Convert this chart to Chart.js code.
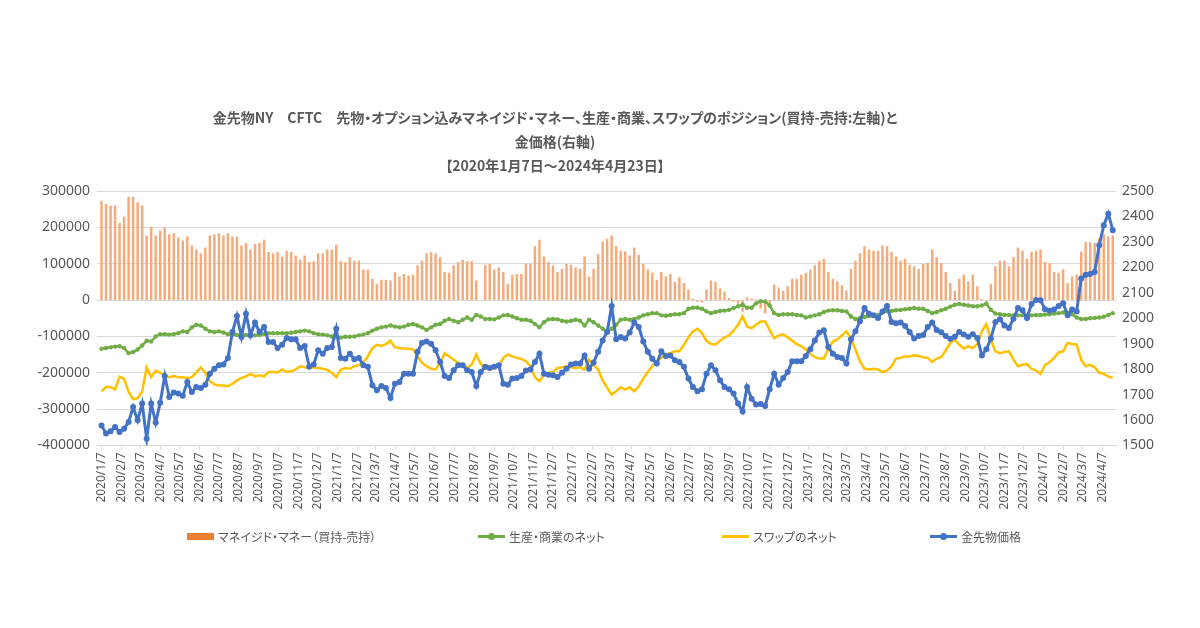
<!DOCTYPE html>
<html lang="ja">
<head>
<meta charset="utf-8">
<script src="https://cdn.jsdelivr.net/npm/chart.js@4.4.1/dist/chart.umd.min.js"></script>
<style>
  body { margin: 0; background: #fff; }
  #wrap { position: relative; width: 1200px; height: 628px; }
  #c { position: absolute; left: 0; top: 0; }
  #title {
    position: absolute; left: 0; top: 105px; width: 1110px;
    text-align: center; color: #595959;
    font: bold 14px "Noto Sans CJK JP", sans-serif; line-height: 24px;
    font-feature-settings: "palt";
  }
  .lg {
    position: absolute; top: 527px; height: 18px;
    display: flex; align-items: center; white-space: nowrap;
    font: 12px "Noto Sans CJK JP", sans-serif; color: #595959;
    font-feature-settings: "palt";
  }
  .sym { position: relative; width: 27px; height: 10px; margin-right: 4px; }
  .sym .bar { position: absolute; left: 0; top: 2px; width: 27px; height: 7px; }
  .sym .ln { position: absolute; left: 0; top: 4px; width: 27px; height: 3px; }
  .sym .dot { position: absolute; left: 10px; top: 2px; width: 7px; height: 7px; border-radius: 50%; }
</style>
</head>
<body>
<div id="wrap">
  <canvas id="c" width="1200" height="628"></canvas>
  <div id="title">
    金先物NY　CFTC　先物・オプション込みマネイジド・マネー、生産・商業、スワップのポジション(買持-売持:左軸)と<br>
    金価格(右軸)<br>
    【2020年1月7日～2024年4月23日】
  </div>
  <div id="legend"></div>
</div>
<script>
// monthly tick labels on the date axis
var tickLabels = [
  '2020/1/7','2020/2/7','2020/3/7','2020/4/7','2020/5/7','2020/6/7','2020/7/7','2020/8/7','2020/9/7','2020/10/7','2020/11/7','2020/12/7',
  '2021/1/7','2021/2/7','2021/3/7','2021/4/7','2021/5/7','2021/6/7','2021/7/7','2021/8/7','2021/9/7','2021/10/7','2021/11/7','2021/12/7',
  '2022/1/7','2022/2/7','2022/3/7','2022/4/7','2022/5/7','2022/6/7','2022/7/7','2022/8/7','2022/9/7','2022/10/7','2022/11/7','2022/12/7',
  '2023/1/7','2023/2/7','2023/3/7','2023/4/7','2023/5/7','2023/6/7','2023/7/7','2023/8/7','2023/9/7','2023/10/7','2023/11/7','2023/12/7',
  '2024/1/7','2024/2/7','2024/3/7','2024/4/7'
];

// weekly CFTC report, 2020/1/7 .. 2024/4/23 (every Tuesday)
var firstWeek = '2020/1/7';

var managedMoney = [
  272000,263000,259000,259000,211000,229000,283000,283000,268000,259000,177000,201000,177000,190000,199000,180000,183000,171000,162000,174000,
  149000,138000,128000,144000,177000,180000,183000,177000,183000,174000,174000,149000,156000,138000,153000,156000,165000,131000,128000,131000,
  119000,135000,131000,122000,110000,122000,104000,106000,128000,128000,138000,138000,151000,106000,103000,117000,107000,107000,83000,83000,
  58000,43000,55000,55000,53000,76000,64000,71000,67000,69000,95000,107000,128000,131000,128000,117000,76000,74000,95000,104000,
  110000,106000,106000,53000,null,96000,98000,83000,89000,76000,43000,69000,71000,71000,100000,98000,147000,165000,119000,104000,
  95000,76000,85000,98000,96000,89000,85000,119000,64000,85000,126000,160000,168000,177000,147000,135000,133000,122000,144000,124000,
  98000,83000,74000,55000,76000,64000,71000,49000,62000,46000,28000,3000,-4000,-6000,28000,53000,49000,31000,22000,5000,
  -4000,-9000,-31000,7000,3000,1000,-22000,-36000,-13000,42000,34000,25000,37000,58000,58000,69000,74000,83000,95000,107000,
  113000,76000,58000,51000,40000,25000,85000,107000,128000,147000,138000,135000,135000,149000,147000,131000,119000,107000,113000,96000,
  92000,85000,98000,101000,138000,117000,101000,76000,46000,25000,58000,69000,51000,69000,37000,2000,-3000,43000,92000,107000,
  107000,92000,117000,144000,135000,113000,131000,135000,138000,104000,101000,76000,74000,83000,46000,64000,69000,133000,159000,159000,
  156000,169000,180000,174000,177000
];

var producerNet = [
  -134000,-132000,-130000,-128000,-127000,-132000,-146000,-143000,-136000,-125000,-112000,-114000,-100000,-94000,-94000,-95000,-94000,-91000,-86000,-88000,
  -75000,-68000,-70000,-79000,-86000,-88000,-86000,-89000,-94000,-95000,-96000,-97000,-96000,-97000,-97000,-96000,-93000,-91000,-91000,-91000,
  -91000,-91000,-90000,-88000,-86000,-84000,-86000,-91000,-94000,-95000,-97000,-100000,-100000,-103000,-101000,-101000,-100000,-97000,-95000,-91000,
  -84000,-79000,-75000,-73000,-70000,-73000,-75000,-73000,-68000,-66000,-70000,-75000,-82000,-75000,-68000,-66000,-57000,-52000,-57000,-61000,
  -54000,-48000,-54000,-41000,-45000,-52000,-52000,-53000,-48000,-42000,-41000,-45000,-50000,-54000,-54000,-57000,-66000,-75000,-61000,-53000,
  -52000,-53000,-57000,-59000,-57000,-54000,-57000,-70000,-54000,-61000,-70000,-79000,-86000,-79000,-68000,-54000,-52000,-54000,-52000,-48000,
  -42000,-39000,-36000,-36000,-42000,-43000,-41000,-39000,-39000,-36000,-24000,-21000,-21000,-24000,-31000,-36000,-33000,-30000,-29000,-27000,
  -22000,-17000,-13000,-21000,-21000,-9000,-3000,-4000,-15000,-36000,-41000,-39000,-39000,-39000,-41000,-42000,-48000,-45000,-42000,-39000,
  -33000,-29000,-28000,-28000,-30000,-31000,-45000,-52000,-50000,-47000,-44000,-44000,-41000,-33000,-30000,-30000,-28000,-27000,-25000,-24000,
  -22000,-24000,-24000,-30000,-36000,-33000,-28000,-24000,-18000,-13000,-11000,-13000,-15000,-17000,-17000,-15000,-10000,-27000,-37000,-39000,
  -41000,-41000,-42000,-42000,-42000,-44000,-42000,-41000,-41000,-40000,-39000,-37000,-36000,-34000,-35000,-39000,-48000,-52000,-52000,-50000,
  -49000,-48000,-46000,-41000,-36000
];

var swapNet = [
  -251000,-239000,-239000,-246000,-211000,-217000,-252000,-273000,-269000,-252000,-185000,-212000,-194000,-200000,-208000,-212000,-209000,-212000,-212000,-214000,
  -212000,-199000,-185000,-200000,-223000,-232000,-235000,-235000,-237000,-230000,-221000,-214000,-210000,-203000,-210000,-207000,-210000,-198000,-198000,-199000,
  -191000,-198000,-196000,-191000,-182000,-185000,-187000,-185000,-187000,-189000,-192000,-200000,-212000,-192000,-187000,-189000,-182000,-179000,-170000,-155000,
  -132000,-123000,-126000,-121000,-112000,-130000,-132000,-134000,-134000,-135000,-155000,-173000,-182000,-189000,-191000,-173000,-146000,-155000,-164000,-173000,
  -179000,-187000,-178000,-150000,-176000,-187000,-191000,-187000,-182000,-159000,-150000,-155000,-159000,-162000,-168000,-182000,-212000,-223000,-207000,-200000,
  -198000,-187000,-185000,-182000,-185000,-187000,-185000,-191000,-164000,-178000,-191000,-221000,-241000,-260000,-251000,-240000,-246000,-240000,-251000,-237000,
  -216000,-198000,-182000,-168000,-159000,-148000,-146000,-141000,-141000,-123000,-103000,-86000,-79000,-91000,-112000,-121000,-122000,-112000,-103000,-97000,
  -84000,-68000,-45000,-73000,-77000,-68000,-59000,-59000,-82000,-105000,-97000,-94000,-103000,-112000,-121000,-127000,-136000,-148000,-157000,-161000,
  -161000,-134000,-114000,-108000,-97000,-86000,-105000,-136000,-168000,-189000,-191000,-189000,-191000,-198000,-194000,-182000,-161000,-159000,-155000,-155000,
  -152000,-154000,-157000,-159000,-170000,-161000,-157000,-138000,-118000,-109000,-123000,-134000,-127000,-132000,-121000,-86000,-66000,-109000,-141000,-146000,
  -143000,-141000,-164000,-182000,-178000,-176000,-189000,-194000,-203000,-178000,-171000,-159000,-144000,-141000,-118000,-121000,-122000,-164000,-182000,-178000,
  -185000,-200000,-203000,-210000,-214000
];

var goldPrice = [
  1579,1547,1556,1573,1553,1566,1592,1651,1599,1665,1527,1665,1590,1668,1773,1691,1708,1704,1695,1750,
  1710,1730,1726,1739,1782,1802,1815,1818,1844,1946,2009,1926,2018,1933,1983,1946,1966,1907,1907,1883,
  1896,1922,1917,1917,1883,1891,1809,1818,1874,1861,1883,1887,1959,1844,1841,1861,1839,1844,1815,1809,
  1737,1717,1734,1726,1687,1743,1750,1782,1782,1782,1868,1904,1909,1900,1874,1828,1773,1765,1796,1815,
  1815,1796,1789,1734,1789,1809,1805,1809,1815,1743,1739,1763,1765,1773,1795,1799,1828,1861,1782,1778,
  1776,1769,1786,1802,1818,1822,1822,1854,1802,1826,1868,1913,1946,2048,1917,1926,1920,1944,1983,1966,
  1909,1868,1841,1822,1870,1852,1854,1835,1828,1809,1763,1730,1713,1721,1782,1815,1796,1756,1730,1721,
  1704,1665,1634,1730,1684,1661,1663,1655,1721,1782,1739,1765,1789,1831,1831,1831,1852,1878,1913,1944,
  1953,1887,1861,1848,1844,1822,1917,1949,1988,2040,2018,2012,2001,2027,2048,1985,1980,1983,1970,1946,
  1920,1930,1934,1966,1983,1954,1945,1930,1919,1927,1946,1936,1927,1937,1922,1854,1878,1920,1985,1996,
  1972,1962,1998,2040,2031,2001,2056,2072,2071,2035,2029,2034,2048,2059,2012,2034,2027,2156,2171,2174,
  2182,2287,2365,2411,2346
];

// days since the first report, used as x on the date axis
function dayOf(s) {
  var p = s.split('/').map(Number);
  var f = firstWeek.split('/').map(Number);
  return (Date.UTC(p[0], p[1] - 1, p[2]) - Date.UTC(f[0], f[1] - 1, f[2])) / 86400000;
}
var tickDays = tickLabels.map(dayOf);

// one report per week
function points(arr) {
  return arr.map(function (v, i) { return { x: i * 7, y: v }; });
}

Chart.defaults.font.family = '"Noto Sans", sans-serif';
Chart.defaults.color = '#595959';

var chart = new Chart(document.getElementById('c'), {
  type: 'bar',
  data: {
    datasets: [{
      type: 'bar',
      label: 'マネイジド・マネー（買持-売持）',
      data: points(managedMoney),
      backgroundColor: '#F5AA7A',
      barThickness: 1.8,
      yAxisID: 'y',
      order: 4
    }, {
      type: 'line',
      label: '生産・商業のネット',
      data: points(producerNet),
      borderColor: '#70AD47',
      backgroundColor: '#70AD47',
      borderWidth: 2.5,
      pointRadius: 2.2,
      pointBorderWidth: 0,
      tension: 0,
      yAxisID: 'y',
      order: 2
    }, {
      type: 'line',
      label: 'スワップのネット',
      data: points(swapNet),
      borderColor: '#FFC000',
      backgroundColor: '#FFC000',
      borderWidth: 2.5,
      pointRadius: 0,
      tension: 0,
      yAxisID: 'y',
      order: 3
    }, {
      type: 'line',
      label: '金先物価格',
      data: points(goldPrice),
      borderColor: '#4472C4',
      backgroundColor: '#4472C4',
      borderWidth: 3,
      pointRadius: 3,
      pointBorderWidth: 0,
      tension: 0,
      yAxisID: 'y1',
      order: 1
    }]
  },
  options: {
    responsive: false,
    animation: false,
    layout: { padding: { top: 191, left: 0, right: 0, bottom: 0 } },
    plugins: {
      legend: { display: false },
      title: { display: false },
      tooltip: { enabled: false }
    },
    scales: {
      x: {
        type: 'linear',
        min: -7,
        max: 1573,
        offset: false,
        afterBuildTicks: function (s) {
          s.ticks = tickDays.map(function (d) { return { value: d }; });
        },
        afterFit: function (s) { s.height = 182.5; },
        ticks: {
          autoSkip: false,
          minRotation: 90,
          maxRotation: 90,
          padding: 3,
          font: { size: 12 },
          callback: function (v, i) { return tickLabels[i]; }
        },
        grid: { offset: false, drawOnChartArea: false, color: '#D9D9D9', tickLength: 4 },
        border: { color: '#D9D9D9' }
      },
      y: {
        position: 'left',
        min: -400000,
        max: 300000,
        afterFit: function (s) { s.width = 97; },
        ticks: { stepSize: 100000, padding: 7, font: { size: 14 }, callback: function (v) { return String(v); } },
        grid: { color: '#D9D9D9', drawTicks: false },
        border: { display: false }
      },
      y1: {
        position: 'right',
        min: 1500,
        max: 2500,
        afterFit: function (s) { s.width = 84; },
        ticks: { stepSize: 100, padding: 6, font: { size: 14 }, callback: function (v) { return String(v); } },
        grid: { drawOnChartArea: false, drawTicks: false },
        border: { display: false }
      }
    }
  }
});

// legend below the chart, items spread like the original
var legendX = [187, 478, 722, 930];
var legend = document.getElementById('legend');
chart.data.datasets.forEach(function (ds, i) {
  var item = document.createElement('div');
  item.className = 'lg';
  item.style.left = legendX[i] + 'px';
  var sym = document.createElement('span');
  sym.className = 'sym';
  if (ds.type === 'bar') {
    sym.innerHTML = '<span class="bar" style="background:#ED7D31"></span>';
  } else {
    sym.innerHTML = '<span class="ln" style="background:' + ds.borderColor + '"></span>' +
      (ds.pointRadius > 0 ? '<span class="dot" style="background:' + ds.borderColor + '"></span>' : '');
  }
  item.appendChild(sym);
  item.appendChild(document.createTextNode(ds.label));
  legend.appendChild(item);
});
</script>
</body>
</html>
